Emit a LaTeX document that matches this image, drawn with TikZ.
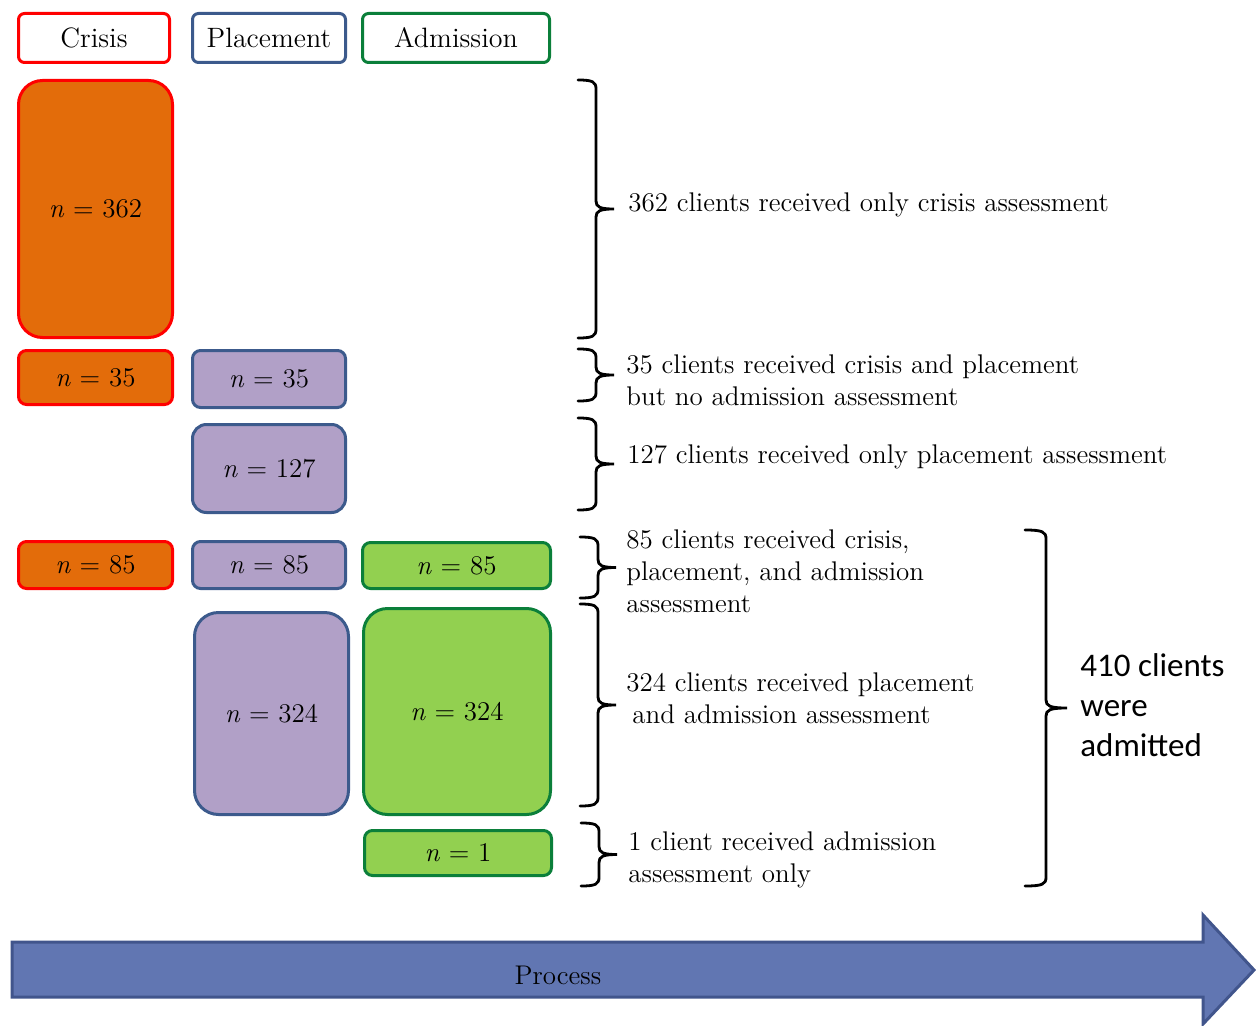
\documentclass[tikz,border=0pt]{standalone}
\usepackage{fontspec}
\newfontfamily\carlito{Carlito}
\definecolor{crisisRed}{HTML}{FF0000}
\definecolor{crisisOrange}{HTML}{E36C0A}
\definecolor{placeBlue}{HTML}{3C5A8C}
\definecolor{placePurple}{HTML}{B1A0C7}
\definecolor{admitGreen}{HTML}{0B7F3A}
\definecolor{admitLime}{HTML}{92D050}
\definecolor{procFill}{HTML}{6176B2}
\definecolor{procLine}{HTML}{41558C}
\tikzstyle{headBox}=[shape = rectangle, rounded corners = 3pt, line width = 1.5pt, fill = white, inner sep = 0pt, font = \fontsize{14}{16}\selectfont]
\tikzstyle{countBox}=[shape = rectangle, rounded corners = 4pt, line width = 1.5pt, inner sep = 0pt, font = \fontsize{13.5}{16}\selectfont]
\tikzstyle{noteText}=[anchor = west, align = left, inner sep = 0pt, font = \fontsize{13.5}{16}\selectfont]
\tikzstyle{braceLine}=[line width = 1.4pt, line cap = round]
% square-ish brace: #1 half depth, #2 x of the ends, #3 top y, #4 bottom y
\newcommand{\clientBrace}[4][18]{%
\draw[braceLine] (#2,#3) .. controls ({#2+#1-3},#3) and ({#2+#1},{#3+2}) .. ({#2+#1},{#3+9})
  -- ({#2+#1},{(#3+#4)/2-8}) .. controls ({#2+#1},{(#3+#4)/2-2}) and ({#2+#1+4},{(#3+#4)/2}) .. ({#2+2*#1},{(#3+#4)/2})
  .. controls ({#2+#1+4},{(#3+#4)/2}) and ({#2+#1},{(#3+#4)/2+2}) .. ({#2+#1},{(#3+#4)/2+8})
  -- ({#2+#1},{#4-9}) .. controls ({#2+#1},{#4-2}) and ({#2+#1-3},#4) .. (#2,#4);}

\begin{document}
\begin{tikzpicture}[x = 0.5pt, y = -0.5pt]
\tikzstyle{crisisBox}=[countBox, draw = crisisRed, fill = crisisOrange]
\tikzstyle{placeBox}=[countBox, draw = placeBlue, fill = placePurple]
\tikzstyle{admitBox}=[countBox, draw = admitGreen, fill = admitLime]
\useasboundingbox (0,0) rectangle (1256,1026);
% column heads
\node[headBox, draw = crisisRed, minimum width = 75.5pt, minimum height = 24.5pt] (hCrisis) at (94,38) {Crisis};
\node[headBox, draw = placeBlue, minimum width = 76.5pt, minimum height = 24.5pt] (hPlace) at (269,38) {Placement};
\node[headBox, draw = admitGreen, minimum width = 93.5pt, minimum height = 24.5pt] (hAdmit) at (456,38) {Admission};
% counts
\node[crisisBox, rounded corners = 12pt, minimum width = 77pt, minimum height = 128.5pt] (c362) at (95.5,209) {\textit{n} = 362};
\node[crisisBox, minimum width = 77pt, minimum height = 27pt] (c35) at (95.5,377.5) {\textit{n} = 35};
\node[placeBox, minimum width = 76.5pt, minimum height = 28.5pt] (p35) at (269,379) {\textit{n} = 35};
\node[placeBox, rounded corners = 7pt, minimum width = 76.5pt, minimum height = 44pt] (p127) at (269,468.5) {\textit{n} = 127};
\node[crisisBox, minimum width = 77pt, minimum height = 23.5pt] (c85) at (95.5,565) {\textit{n} = 85};
\node[placeBox, minimum width = 76.5pt, minimum height = 23.5pt] (p85) at (269,565) {\textit{n} = 85};
\node[admitBox, minimum width = 94pt, minimum height = 23pt] (a85) at (456.5,565.5) {\textit{n} = 85};
\node[placeBox, rounded corners = 12pt, minimum width = 77pt, minimum height = 101pt] (p324) at (271.5,713.5) {\textit{n} = 324};
\node[admitBox, rounded corners = 12pt, minimum width = 93.5pt, minimum height = 103pt] (a324) at (457,711.5) {\textit{n} = 324};
\node[admitBox, minimum width = 93.5pt, minimum height = 22.5pt] (a1) at (458,853) {\textit{n} = 1};
% braces
\clientBrace{578}{80}{338}
\clientBrace{578}{349}{401}
\clientBrace{578}{418}{510}
\clientBrace{580}{537}{598}
\clientBrace{580}{604}{806}
\clientBrace{581}{823}{886}
\clientBrace[21]{1025}{530}{886}
% notes
\node[noteText] (t362) at (628,205) {362 clients received only crisis assessment};
\node[noteText] (t35) at (626,380) {35 clients received crisis and placement\\but no admission assessment};
\node[noteText] (t127) at (627,457) {127 clients received only placement assessment};
\node[noteText] (t85) at (626,571) {85 clients received crisis,\\placement, and admission\\assessment};
\node[noteText] (t324) at (626,698) {324 clients received placement\\\hspace{3pt}and admission assessment};
\node[noteText] (t1) at (628,860) {1 client received admission\\assessment only};
\node[noteText, font = \carlito\fontsize{16.5}{20}\selectfont] (t410) at (1080,705) {410 clients\\were\\admitted};
% process arrow
\filldraw[fill = procFill, draw = procLine, line width = 1.5pt, line join = miter]
  (12,942) -- (1203,942) -- (1203,915) -- (1254,970) -- (1203,1024) -- (1203,997) -- (12,997) -- cycle;
\node[font = \fontsize{13.5}{16}\selectfont] (proc) at (558,975) {Process};
\end{tikzpicture}
\end{document}
